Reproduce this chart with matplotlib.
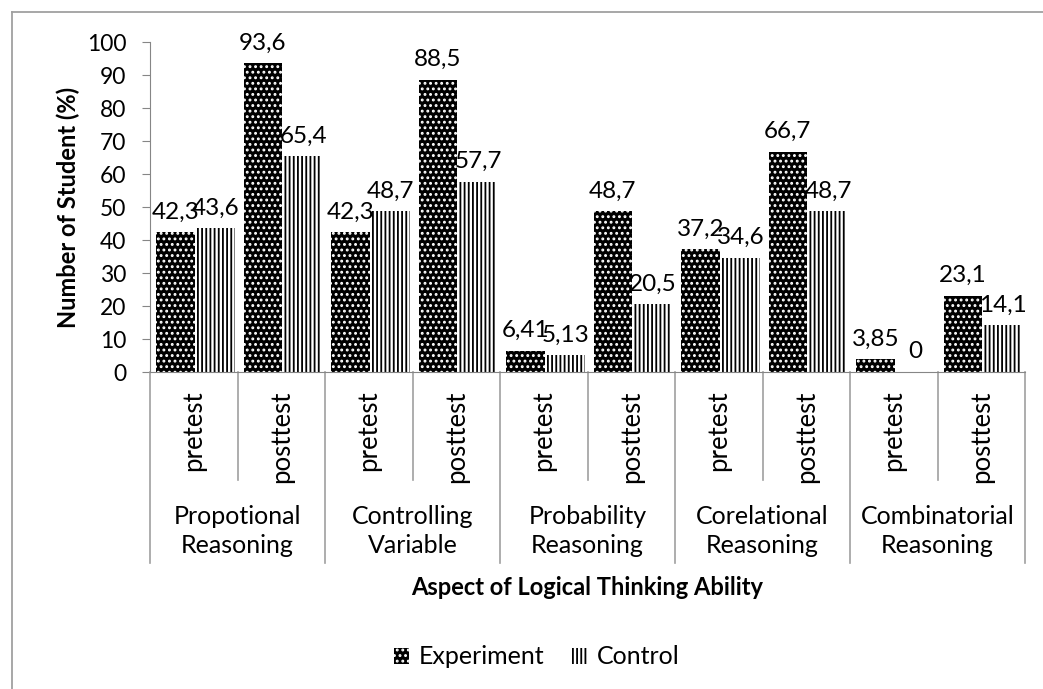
import numpy as np
import matplotlib
matplotlib.use("Agg")
import matplotlib.pyplot as plt
from matplotlib.patches import Patch
from matplotlib.lines import Line2D

plt.rcParams['font.family'] = ['Lato', 'DejaVu Sans']
plt.rcParams['hatch.linewidth'] = 1.3

groups = ["Propotional\nReasoning", "Controlling\nVariable", "Probability\nReasoning",
          "Corelational\nReasoning", "Combinatorial\nReasoning"]
tests = ["pretest", "posttest"]
experiment = [42.3, 93.6, 42.3, 88.5, 6.41, 48.7, 37.2, 66.7, 3.85, 23.1]
control = [43.6, 65.4, 48.7, 57.7, 5.13, 20.5, 34.6, 48.7, 0, 14.1]

def fmt(v):
    return ("%g" % v).replace(".", ",")

fig = plt.figure(figsize=(10.43, 6.89), dpi=100)
ax = fig.add_axes([150/1043, 1-372/689, 875/1043, 330/689])

n = len(experiment)
x = np.arange(n)
w = 0.44
b1 = ax.bar(x + 0.07, experiment, w, align='edge', color='black', edgecolor='white',
            hatch='...', linewidth=0)
b2 = ax.bar(x + 0.53, control, w, align='edge', color='white', edgecolor='black',
            hatch='||||', linewidth=0)

# data labels (they overlap in places, same as the original)
for bars, vals in ((b1, experiment), (b2, control)):
    for r, v in zip(bars, vals):
        ax.annotate(fmt(v), (r.get_x() + r.get_width()/2, v), xytext=(0, 7),
                    textcoords='offset points', ha='center', va='bottom', fontsize=17.5)

ax.set_xlim(0, n)
ax.set_ylim(0, 100)
ax.set_yticks(np.arange(0, 101, 10))
ax.tick_params(axis='y', labelsize=16.5, color='#868686', length=6, pad=11)
ax.set_xticks([])
for s in ['top', 'right']:
    ax.spines[s].set_visible(False)
ax.spines['left'].set_color('#868686')
ax.spines['bottom'].set_color('#868686')
ax.set_ylabel("Number of Student (%)", fontsize=17, fontweight='bold', labelpad=5)

# two-level category axis
tr = ax.get_xaxis_transform()
lc = '#a0a0a0'
for i in range(n + 1):
    y_end = -0.579 if i % 2 == 0 else -0.327
    ax.plot([i, i], [0, y_end], color=lc, lw=1.2, transform=tr, clip_on=False)
for i in range(n):
    ax.text(i + 0.5, -0.055, tests[i % 2], rotation=90, ha='center', va='top',
            fontsize=18.5, transform=tr)
for g, name in enumerate(groups):
    ax.text(2*g + 1, -0.482, name, ha='center', va='center', fontsize=18,
            linespacing=1.3, transform=tr)
ax.text(n/2, -0.652, "Aspect of Logical Thinking Ability", ha='center', va='center',
        fontsize=17, fontweight='bold', transform=tr)

handles = [Patch(facecolor='black', edgecolor='white', hatch='...', linewidth=0),
           Patch(facecolor='white', edgecolor='black', hatch='||||', linewidth=0)]
fig.legend(handles, ["Experiment", "Control"], loc='center', bbox_to_anchor=(537/1043, 1-657/689),
           ncol=2, frameon=False, fontsize=18, handlelength=0.6, handleheight=0.6,
           handletextpad=0.4, columnspacing=1.1)

# outer chart border (top and left edges visible)
fig.add_artist(Line2D([12/1043, 1], [1-12/689, 1-12/689], transform=fig.transFigure,
                      color='#a0a0a0', lw=1.3))
fig.add_artist(Line2D([12/1043, 12/1043], [0, 1-12/689], transform=fig.transFigure,
                      color='#a0a0a0', lw=1.3))

fig.savefig("out.png", dpi=100)
